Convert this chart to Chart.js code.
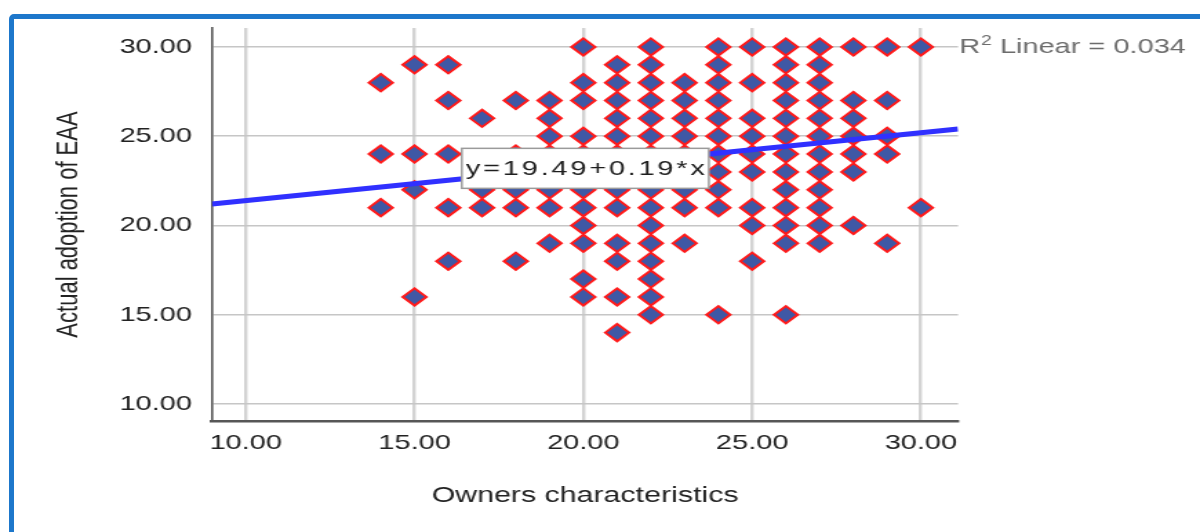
<!DOCTYPE html>
<html>
<head>
<meta charset="utf-8">
<title>Owners characteristics vs actual adoption of EAA</title>
<script src="https://cdn.jsdelivr.net/npm/chart.js@4.4.1/dist/chart.umd.min.js"></script>
<style>
  html, body { margin: 0; padding: 0; background: #fff; overflow: hidden; width: 1200px; height: 532px; }
  /* chart is laid out narrow and widened, like the exported SPSS graphic */
  #stretch { position: absolute; left: 0; top: 0; width: 870px; height: 532px; transform: scaleX(1.3793); transform-origin: 0 0; }
  #frame { position: absolute; left: 9px; top: 14px; width: 1300px; height: 600px; border: 5px solid #1d77cb; border-radius: 5px; }
</style>
</head>
<body>
<div id="stretch"><canvas id="scatterChart"></canvas></div>
<div id="frame"></div>
<script>
// Owners characteristics score (x) and the adoption scores observed at each one (y)
const ownersValues = [14, 15, 16, 17, 18, 19, 20, 21, 22, 23, 24, 25, 26, 27, 28, 29, 30];
const adoptionByOwners = [
    [28, 24, 21],
    [29, 24, 22, 16],
    [29, 27, 24, 21, 18],
    [26, 22, 21],
    [27, 24, 22, 21, 18],
    [27, 26, 25, 24, 23, 22, 21, 19],
    [30, 28, 27, 25, 24, 23, 22, 21, 20, 19, 17, 16],
    [29, 28, 27, 26, 25, 24, 23, 22, 21, 19, 18, 16, 14],
    [30, 29, 28, 27, 26, 25, 24, 23, 22, 21, 20, 19, 18, 17, 16, 15],
    [28, 27, 26, 25, 24, 23, 22, 21, 19],
    [30, 29, 28, 27, 26, 25, 24, 23, 22, 21, 15],
    [30, 28, 26, 25, 24, 23, 21, 20, 18],
    [30, 29, 28, 27, 26, 25, 24, 23, 22, 21, 20, 19, 15],
    [30, 29, 28, 27, 26, 25, 24, 23, 22, 21, 20, 19],
    [30, 27, 26, 25, 24, 23, 20],
    [30, 27, 25, 24, 19],
    [30, 21]
];

// Linear fit reported by SPSS
const fitIntercept = 19.49;
const fitSlope = 0.19;
const rSquared = 0.034;

const xTickValues = [10, 15, 20, 25, 30];
const yTickValues = [10, 15, 20, 25, 30];

const FONT = '"Liberation Sans", Arial, sans-serif';

const points = [];
ownersValues.forEach((x, i) => {
    adoptionByOwners[i].forEach(y => points.push({ x: x, y: y }));
});

const xMin = 9, xMax = 31.1;
const fitLine = [xMin, xMax].map(x => ({ x: x, y: fitIntercept + fitSlope * x }));

// Equation box and R² note drawn on top of the data
const fitLabels = {
    id: 'fitLabels',
    afterDatasetsDraw(chart) {
        const { ctx, chartArea, scales } = chart;
        const xs = scales.x, ys = scales.y;
        ctx.save();

        // R² note at the end of the top gridline
        ctx.fillStyle = '#6c6c6c';
        ctx.textBaseline = 'middle';
        ctx.textAlign = 'left';
        const ty = ys.getPixelForValue(30);
        let tx = chartArea.right + 1;
        ctx.font = '21px ' + FONT;
        ctx.fillText('R', tx, ty);
        tx += ctx.measureText('R').width + 0.5;
        ctx.font = '14px ' + FONT;
        ctx.fillText('2', tx, ty - 6);
        tx += ctx.measureText('2').width;
        ctx.font = '21px ' + FONT;
        ctx.fillText(' Linear = ' + rSquared.toFixed(3), tx, ty);

        // fit equation in a white box
        const eq = 'y=' + fitIntercept.toFixed(2) + '+' + fitSlope.toFixed(2) + '*x';
        ctx.font = '21px ' + FONT;
        if ('letterSpacing' in ctx) ctx.letterSpacing = '2px';
        const w = ctx.measureText(eq).width + 4;
        const h = 40;
        const bx = xs.getPixelForValue(16.4);
        const by = ys.getPixelForValue(23.2) - h / 2;
        ctx.fillStyle = '#ffffff';
        ctx.fillRect(bx, by, w, h);
        ctx.strokeStyle = '#9a9a9a';
        ctx.lineWidth = 1.5;
        ctx.strokeRect(bx, by, w, h);
        ctx.fillStyle = '#1e1e1e';
        ctx.fillText(eq, bx + 3, by + h / 2 + 1);
        ctx.restore();
    }
};

const ctx = document.getElementById('scatterChart').getContext('2d');
new Chart(ctx, {
    type: 'scatter',
    data: {
        datasets: [
            {
                label: 'Linear fit',
                data: fitLine,
                showLine: true,
                borderColor: '#3030ff',
                borderWidth: 5,
                pointRadius: 0,
                order: 0
            },
            {
                label: 'Observed',
                data: points,
                pointStyle: 'rectRot',
                pointRadius: 8.6,
                pointBackgroundColor: '#3f58a5',
                pointBorderColor: '#ff1a1a',
                pointBorderWidth: 2,
                order: 1
            }
        ]
    },
    options: {
        responsive: true,
        maintainAspectRatio: false,
        animation: false,
        layout: {
            padding: { top: 28, right: 175.4, bottom: 0, left: 0 }
        },
        plugins: {
            legend: { display: false },
            tooltip: { enabled: false }
        },
        scales: {
            x: {
                type: 'linear',
                min: xMin,
                max: xMax,
                afterBuildTicks: scale => { scale.ticks = xTickValues.map(v => ({ value: v })); },
                afterFit: scale => { scale.height = 111; },
                grid: { color: '#d3d3d3', lineWidth: 2.4, drawTicks: false },
                border: { color: '#575757', width: 2.5 },
                ticks: {
                    padding: 10,
                    color: '#222',
                    font: { family: FONT, size: 21 },
                    maxRotation: 0,
                    autoSkip: false,
                    callback: v => Number(v).toFixed(2)
                },
                title: {
                    display: true,
                    text: 'Owners characteristics',
                    color: '#222',
                    font: { family: FONT, size: 22 },
                    padding: { top: 0, bottom: 23 }
                }
            },
            y: {
                type: 'linear',
                min: 9.05,
                max: 31.06,
                afterBuildTicks: scale => { scale.ticks = yTickValues.map(v => ({ value: v })); },
                afterFit: scale => { scale.width = 153.7; },
                grid: { color: '#c6c6c6', lineWidth: 1.6, drawTicks: false },
                border: { color: '#575757', width: 1.6 },
                ticks: {
                    padding: 14.5,
                    color: '#222',
                    font: { family: FONT, size: 21 },
                    callback: v => Number(v).toFixed(2)
                },
                title: {
                    display: true,
                    text: 'Actual adoption of EAA',
                    color: '#222',
                    font: { family: FONT, size: 22 },
                    padding: { top: 37, bottom: 0 }
                }
            }
        }
    },
    plugins: [fitLabels]
});
</script>
</body>
</html>
